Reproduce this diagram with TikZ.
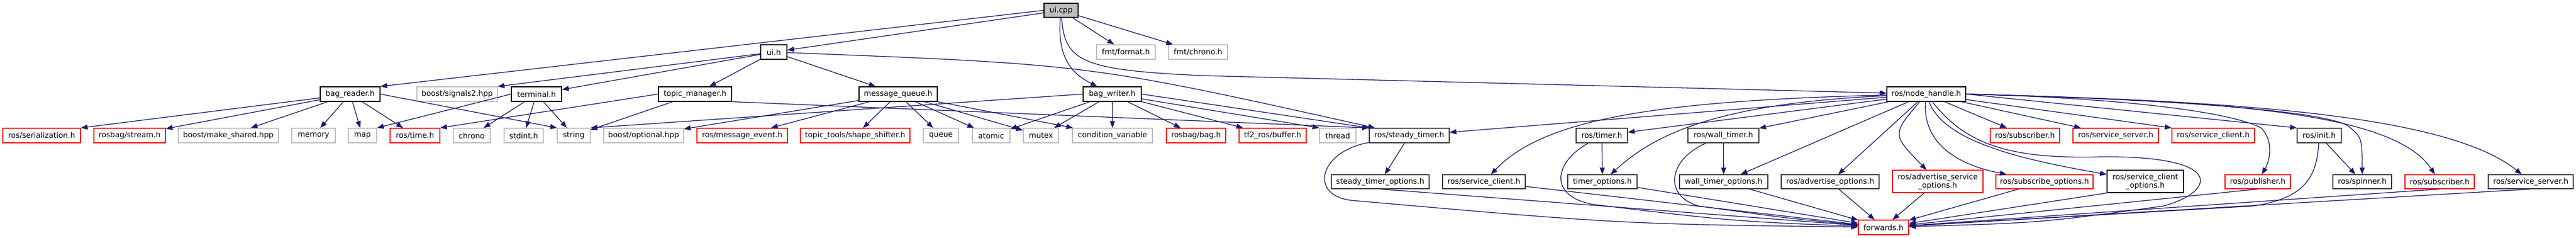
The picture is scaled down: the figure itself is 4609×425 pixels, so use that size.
\documentclass[tikz,border=0pt]{standalone}
\usepackage{fontspec}
\setmainfont{DejaVu Sans}
\usetikzlibrary{arrows.meta}
\definecolor{midblue}{HTML}{191970}
\definecolor{darkframe}{HTML}{404040}
\definecolor{lightframe}{HTML}{BFBFBF}
\definecolor{cutframe}{HTML}{FF0000}
\definecolor{rootfill}{HTML}{BFBFBF}

\begin{document}
\begin{tikzpicture}[x=1pt, y=-1pt,
    hbox/.style={draw, fill=white, line width=1.3pt, inner sep=0pt, minimum height=26pt,
        font=\fontsize{13.5}{15}\selectfont, align=center},
    rootbox/.style={hbox, draw=black, fill=rootfill},
    docbox/.style={hbox, draw=black},
    darkbox/.style={hbox, draw=darkframe},
    sysbox/.style={hbox, draw=lightframe},
    cutbox/.style={hbox, draw=cutframe},
    inc/.style={draw=midblue, line width=1.3pt, -{Triangle[length=12pt, width=9pt]}}]

    % 画布大小, 和原图一样
    \useasboundingbox (0,0) rectangle (4609,425);

    % 第一、二层
    \node[rootbox, minimum width=61pt, minimum height=25pt] (uicpp) at (1898.5,18.5) {ui.cpp};
    \node[docbox, minimum width=47pt] (uih) at (1384.5,93) {ui.h};
    \node[sysbox, minimum width=105pt] (fmtformat) at (2014.5,93) {fmt/format.h};
    \node[sysbox, minimum width=105pt] (fmtchrono) at (2143.5,93) {fmt/chrono.h};

    % 第三层
    \node[docbox, minimum width=107pt] (bagreader) at (626.5,168) {bag\_reader.h};
    \node[sysbox, minimum width=144pt] (signals) at (818,168) {boost/signals2.hpp};
    \node[docbox, minimum width=90pt] (terminal) at (960,168) {terminal.h};
    \node[docbox, minimum width=131pt] (topicmgr) at (1243.5,168) {topic\_manager.h};
    \node[docbox, minimum width=140pt] (msgqueue) at (1607,168) {message\_queue.h};
    \node[docbox, minimum width=104pt] (bagwriter) at (1990,168) {bag\_writer.h};
    \node[docbox, minimum width=141pt] (nodehandle) at (3446.5,168) {ros/node\_handle.h};

    % 第四层
    \node[cutbox, minimum width=139pt] (serialization) at (74.5,242) {ros/serialization.h};
    \node[cutbox, minimum width=128pt] (stream) at (232,242) {rosbag/stream.h};
    \node[sysbox, minimum width=179pt] (makeshared) at (408.5,242) {boost/make\_shared.hpp};
    \node[sysbox, minimum width=78pt] (memory) at (561,242) {memory};
    \node[sysbox, minimum width=51pt] (map) at (648.5,242) {map};
    \node[cutbox, minimum width=89pt] (rostime) at (742.5,242) {ros/time.h};
    \node[sysbox, minimum width=66pt] (chrono) at (844,242) {chrono};
    \node[sysbox, minimum width=70pt] (stdint) at (937,242) {stdint.h};
    \node[sysbox, minimum width=59pt] (string) at (1026.5,242) {string};
    \node[sysbox, minimum width=143pt] (optional) at (1151.5,242) {boost/optional.hpp};
    \node[cutbox, minimum width=162pt] (msgevent) at (1328,242) {ros/message\_event.h};
    \node[cutbox, minimum width=196pt] (shifter) at (1530,242) {topic\_tools/shape\_shifter.h};
    \node[sysbox, minimum width=63pt] (queue) at (1683.5,242) {queue};
    \node[sysbox, minimum width=67pt] (atomic) at (1773.5,242) {atomic};
    \node[sysbox, minimum width=63pt] (mutex) at (1862.5,242) {mutex};
    \node[sysbox, minimum width=143pt] (condvar) at (1990.5,242) {condition\_variable};
    \node[cutbox, minimum width=106pt] (rosbag) at (2140,242) {rosbag/bag.h};
    \node[cutbox, minimum width=120pt] (tf2buffer) at (2277,242) {tf2\_ros/buffer.h};
    \node[sysbox, minimum width=65pt] (thread) at (2393.5,242) {thread};
    \node[darkbox, minimum width=143pt] (steadytimer) at (2521.5,242) {ros/steady\_timer.h};
    \node[darkbox, minimum width=92pt] (timer) at (2866,242) {ros/timer.h};
    \node[darkbox, minimum width=127pt] (walltimer) at (3083.5,242) {ros/wall\_timer.h};
    \node[cutbox, minimum width=124pt] (subscriberA) at (3623,242) {ros/subscriber.h};
    \node[cutbox, minimum width=153pt] (srvserverA) at (3785.5,242) {ros/service\_server.h};
    \node[cutbox, minimum width=148pt] (srvclientA) at (3960,242) {ros/service\_client.h};
    \node[darkbox, minimum width=79pt] (init) at (4149.5,242) {ros/init.h};

    % 第五层
    \node[darkbox, minimum width=175pt, minimum height=25pt] (steadyopts) at (2469.5,324.5) {steady\_timer\_options.h};
    \node[darkbox, minimum width=148pt, minimum height=25pt] (srvclientB) at (2655,324.5) {ros/service\_client.h};
    \node[darkbox, minimum width=124pt, minimum height=25pt] (timeropts) at (2867,324.5) {timer\_options.h};
    \node[darkbox, minimum width=158pt, minimum height=25pt] (wallopts) at (3084,324.5) {wall\_timer\_options.h};
    \node[darkbox, minimum width=175pt, minimum height=25pt] (advopts) at (3274.5,324.5) {ros/advertise\_options.h};
    \node[cutbox, minimum width=162pt, minimum height=40pt] (advsrvopts) at (3467,324) {ros/advertise\_service\\\_options.h};
    \node[cutbox, minimum width=174pt, minimum height=25pt] (subopts) at (3658,324.5) {ros/subscribe\_options.h};
    \node[docbox, minimum width=137pt, minimum height=40pt] (srvclientopts) at (3838.5,324) {ros/service\_client\\\_options.h};
    \node[cutbox, minimum width=117pt, minimum height=25pt] (publisher) at (4039.5,324.5) {ros/publisher.h};
    \node[darkbox, minimum width=105pt, minimum height=25pt] (spinner) at (4226.5,324.5) {ros/spinner.h};
    \node[cutbox, minimum width=124pt, minimum height=25pt] (subscriberB) at (4365,324.5) {ros/subscriber.h};
    \node[darkbox, minimum width=152pt, minimum height=25pt] (srvserverB) at (4528,324.5) {ros/service\_server.h};

    % 最底层
    \node[cutbox, minimum width=90pt] (forwards) at (3370,406) {forwards.h};

    % ui.cpp 的连线
    \draw[inc] (uicpp) -- (uih);
    \draw[inc] (uicpp.west) -- (bagreader.north east);
    \draw[inc] (uicpp) -- (fmtformat);
    \draw[inc] (uicpp) -- (fmtchrono);
    \draw[inc] (uicpp) .. controls (1890,110) and (1925,135) .. (bagwriter);
    \draw[inc] (uicpp) .. controls (1905,110) and (1935,125) .. (2150,135) -- (nodehandle);

    % ui.h
    \draw[inc] (uih) -- (signals.north east);
    \draw[inc] (uih) -- (terminal);
    \draw[inc] (uih) -- (topicmgr);
    \draw[inc] (uih) -- (msgqueue);
    \draw[inc] (uih) .. controls (1950,115) .. (steadytimer);

    % bag_reader.h
    \draw[inc] (bagreader) -- (serialization.north east);
    \draw[inc] (bagreader) -- (stream);
    \draw[inc] (bagreader) -- (makeshared);
    \draw[inc] (bagreader) -- (memory);
    \draw[inc] (bagreader) -- (map);
    \draw[inc] (bagreader) -- (rostime);
    \draw[inc] (bagreader.east) -- (string.north west);

    % terminal.h, topic_manager.h
    \draw[inc] (terminal.west) -- (map.north east);
    \draw[inc] (terminal) -- (chrono);
    \draw[inc] (terminal) -- (stdint);
    \draw[inc] (terminal) -- (string);
    \draw[inc] (topicmgr.west) -- (rostime.north east);
    \draw[inc] (topicmgr) -- (string);
    \draw[inc] (topicmgr.south east) -- (steadytimer.north west);

    % message_queue.h
    \draw[inc] (msgqueue) -- (optional);
    \draw[inc] (msgqueue) -- (msgevent);
    \draw[inc] (msgqueue) -- (shifter);
    \draw[inc] (msgqueue) -- (queue);
    \draw[inc] (msgqueue) -- (atomic);
    \draw[inc] (msgqueue) -- (mutex);
    \draw[inc] (msgqueue) -- (condvar);

    % bag_writer.h
    \draw[inc] (bagwriter.west) -- (string.north east);
    \draw[inc] (bagwriter) -- (atomic);
    \draw[inc] (bagwriter) -- (mutex);
    \draw[inc] (bagwriter) -- (condvar);
    \draw[inc] (bagwriter) -- (rosbag);
    \draw[inc] (bagwriter) -- (tf2buffer);
    \draw[inc] (bagwriter) -- (thread.north west);
    \draw[inc] (bagwriter.east) -- (steadytimer.north west);

    % ros/node_handle.h
    \draw[inc] (nodehandle) -- (steadytimer);
    \draw[inc] (nodehandle) -- (timer);
    \draw[inc] (nodehandle) -- (walltimer);
    \draw[inc] (nodehandle) .. controls (2950,180) and (2760,215) .. (srvclientB);
    \draw[inc] (nodehandle) .. controls (3050,185) and (2950,250) .. (timeropts);
    \draw[inc] (nodehandle) -- (wallopts);
    \draw[inc] (nodehandle) -- (advopts);
    \draw[inc] (nodehandle) .. controls (3385,240) .. (advsrvopts);
    \draw[inc] (nodehandle) .. controls (3440,240) and (3480,290) .. (subopts);
    \draw[inc] (nodehandle) .. controls (3480,260) and (3650,290) .. (srvclientopts);
    \draw[inc] (nodehandle) -- (subscriberA);
    \draw[inc] (nodehandle) -- (srvserverA);
    \draw[inc] (nodehandle) -- (srvclientA.north west);
    \draw[inc] (nodehandle) .. controls (3515,255) and (3590,285) .. (3760,280)
        .. controls (3990,278) and (3960,345) .. (3870,368) .. controls (3650,398) .. (forwards);
    \draw[inc] (nodehandle.east) .. controls (3800,175) and (3990,200) .. (4045,228)
        .. controls (4068,250) and (4062,285) .. (publisher);
    \draw[inc] (nodehandle.east) -- (init.north west);
    \draw[inc] (nodehandle.east) .. controls (3900,178) and (4150,198) .. (4200,224)
        .. controls (4226,245) .. (spinner);
    \draw[inc] (nodehandle.east) .. controls (3950,180) and (4280,195) .. (subscriberB);
    \draw[inc] (nodehandle.east) .. controls (4000,180) and (4380,205) .. (srvserverB);

    % 定时器和 init
    \draw[inc] (steadytimer) -- (steadyopts);
    \draw[inc] (timer) -- (timeropts);
    \draw[inc] (walltimer) -- (wallopts);
    \draw[inc] (init) -- (spinner);

    % 都指向 forwards.h
    \draw[inc] (steadytimer) .. controls (2360,270) and (2340,350) .. (2420,358) .. controls (2900,400) .. (forwards);
    \draw[inc] (steadyopts.south) -- (forwards);
    \draw[inc] (srvclientB) -- (forwards);
    \draw[inc] (timer) .. controls (2780,290) and (2770,350) .. (2850,365) .. controls (3100,395) .. (forwards);
    \draw[inc] (timeropts) -- (forwards);
    \draw[inc] (walltimer) .. controls (2985,285) and (2975,350) .. (3040,368) .. controls (3200,390) .. (forwards);
    \draw[inc] (wallopts) -- (forwards);
    \draw[inc] (advopts) -- (forwards);
    \draw[inc] (advsrvopts) -- (forwards);
    \draw[inc] (subopts) -- (forwards);
    \draw[inc] (srvclientopts.south west) -- (forwards);
    \draw[inc] (publisher.south) -- (forwards);
    \draw[inc] (init) .. controls (4145,320) and (4120,355) .. (4030,368) -- (forwards);
    \draw[inc] (subscriberB.south) -- (forwards);
    \draw[inc] (srvserverB.south) -- (forwards);
\end{tikzpicture}
\end{document}
